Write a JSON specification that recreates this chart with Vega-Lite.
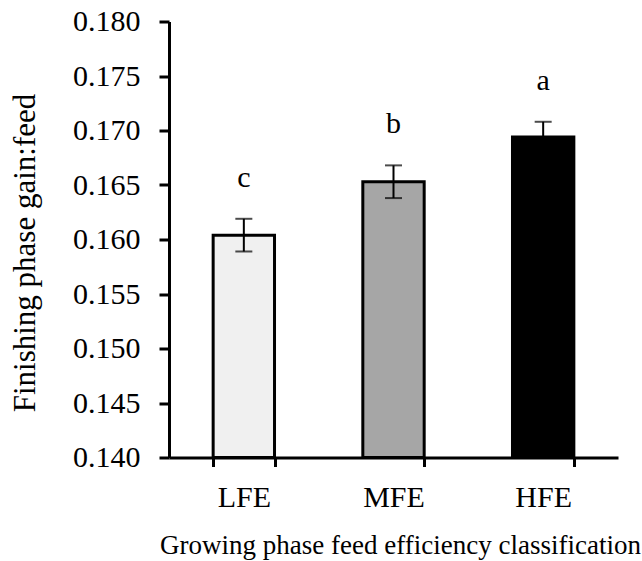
{
  "$schema": "https://vega.github.io/schema/vega-lite/v6.json",
  "autosize": {"type": "none"},
  "width": 449,
  "height": 436,
  "padding": {"left": 169, "top": 21.5, "right": 24, "bottom": 103.5},
  "background": "white",
  "config": {
    "view": {"stroke": null},
    "font": "Liberation Serif"
  },
  "data": {
    "values": [
      {"group": "LFE", "mean": 0.1604, "lower": 0.1589, "upper": 0.1619, "letter": "c"},
      {"group": "MFE", "mean": 0.1653, "lower": 0.1638, "upper": 0.1668, "letter": "b"},
      {"group": "HFE", "mean": 0.1694, "lower": 0.1680, "upper": 0.1708, "letter": "a"}
    ]
  },
  "encoding": {
    "x": {
      "field": "group",
      "type": "nominal",
      "sort": ["LFE", "MFE", "HFE"],
      "scale": {"paddingInner": 0.59, "paddingOuter": 0.295},
      "axis": {
        "title": "Growing phase feed efficiency classification",
        "titleFont": "Liberation Serif",
        "titleFontSize": 27,
        "titleFontWeight": "normal",
        "titleColor": "black",
        "titleX": 231,
        "titleY": 95.5,
        "titleBaseline": "alphabetic",
        "titleAnchor": null,
        "titleAlign": "center",
        "labelAngle": 0,
        "labelFont": "Liberation Serif",
        "labelFontSize": 30,
        "labelColor": "black",
        "labelBaseline": "alphabetic",
        "labelPadding": 40,
        "tickBand": "extent",
        "tickSize": 9,
        "tickWidth": 3,
        "tickColor": "black",
        "domainColor": "black",
        "domainWidth": 3,
        "grid": false
      }
    }
  },
  "layer": [
    {
      "mark": {"type": "bar", "stroke": "black", "strokeWidth": 3},
      "encoding": {
        "y": {
          "field": "mean",
          "type": "quantitative",
          "scale": {"domain": [0.14, 0.18], "zero": false, "nice": false},
          "axis": {
            "title": "Finishing phase gain:feed",
            "titleFont": "Liberation Serif",
            "titleFontSize": 31,
            "titleFontWeight": "normal",
            "titleColor": "black",
            "titleX": -135,
            "titleY": 231,
            "titleAngle": -90,
            "titleAlign": "center",
            "titleBaseline": "alphabetic",
            "values": [0.14, 0.145, 0.15, 0.155, 0.16, 0.165, 0.17, 0.175, 0.18],
            "format": ".3f",
            "labelFont": "Liberation Serif",
            "labelFontSize": 30,
            "labelColor": "black",
            "labelPadding": 19,
            "labelBaseline": "middle",
            "tickSize": 10,
            "tickWidth": 3,
            "tickColor": "black",
            "domainColor": "black",
            "domainWidth": 3,
            "grid": false
          }
        },
        "y2": {"datum": 0.14},
        "fill": {
          "field": "group",
          "type": "nominal",
          "scale": {"domain": ["LFE", "MFE", "HFE"], "range": ["#f0f0f0", "#a6a6a6", "#000000"]},
          "legend": null
        }
      }
    },
    {
      "mark": {"type": "rule", "color": "black", "strokeWidth": 2},
      "encoding": {
        "y": {"field": "lower", "type": "quantitative"},
        "y2": {"field": "upper"}
      }
    },
    {
      "mark": {"type": "tick", "color": "black", "size": 17, "thickness": 2},
      "encoding": {
        "y": {"field": "upper", "type": "quantitative"}
      }
    },
    {
      "mark": {"type": "tick", "color": "black", "size": 17, "thickness": 2},
      "encoding": {
        "y": {"field": "lower", "type": "quantitative"}
      }
    },
    {
      "mark": {"type": "text", "font": "Liberation Serif", "fontSize": 30, "color": "black", "baseline": "alphabetic", "dy": -32},
      "encoding": {
        "y": {"field": "upper", "type": "quantitative"},
        "text": {"field": "letter"}
      }
    }
  ]
}
